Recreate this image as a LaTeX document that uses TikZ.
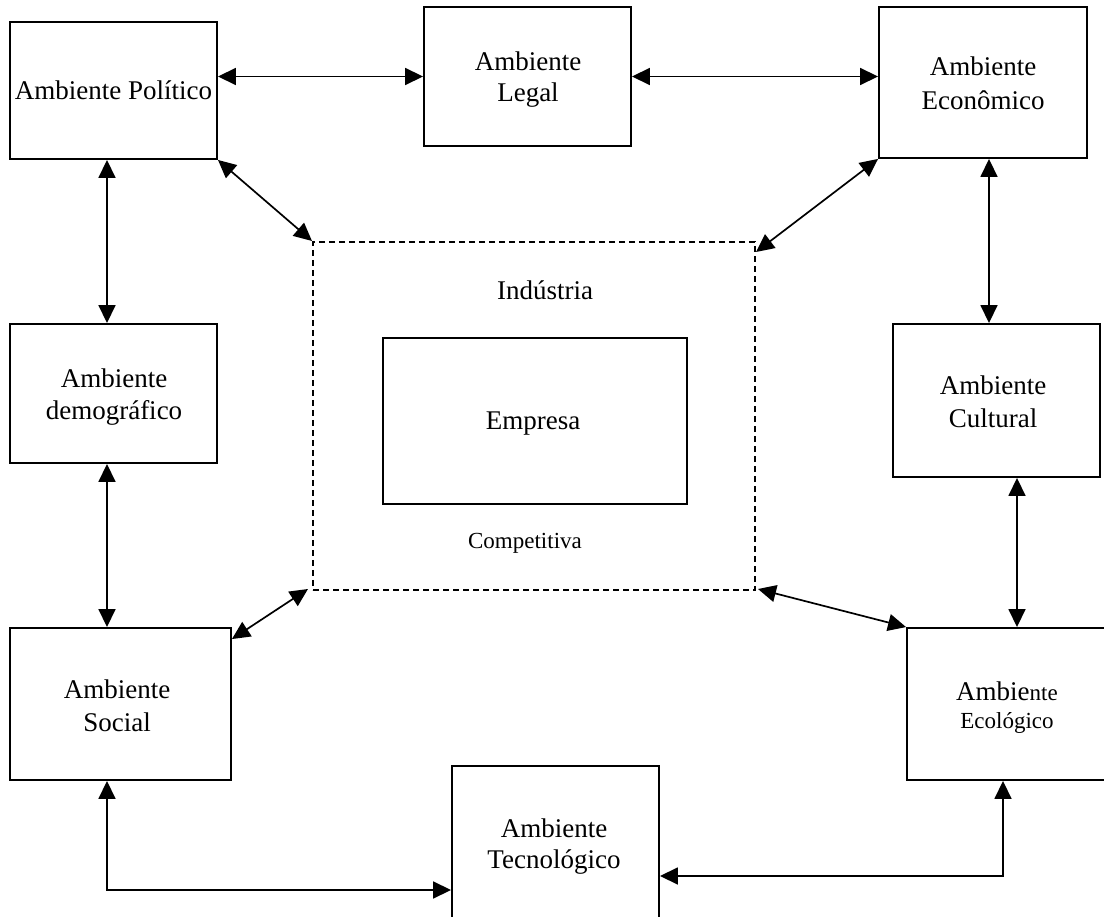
\documentclass[tikz,border=0pt]{standalone}
\usepackage{fontspec}
\setmainfont{Liberation Serif}
\usetikzlibrary{arrows.meta}

\begin{document}
\begin{tikzpicture}[x=1pt,y=-1pt,
  box/.style={draw, line width=1.9pt, inner sep=0pt, rectangle},
  dashbox/.style={draw, line width=2pt, dash pattern=on 6pt off 4pt, inner sep=0pt, rectangle},
  biarrow/.style={line width=1.7pt, {Triangle[length=18pt,width=17pt]}-{Triangle[length=18pt,width=17pt]}},
  txt/.style={anchor=base, inner sep=0pt, font=\fontsize{27}{31}\selectfont},
  smalltxt/.style={anchor=base, inner sep=0pt, font=\fontsize{23}{27}\selectfont}]

\useasboundingbox (0,0) rectangle (1104,917);
\clip (0,0) rectangle (1104,917);

% outer environment boxes
\node[box, minimum width=207pt, minimum height=137pt] (pol) at (113.5,90.5) {};
\node[box, minimum width=207pt, minimum height=139pt] (leg) at (527.5,76.5) {};
\node[box, minimum width=208pt, minimum height=151pt] (eco) at (983,82.5) {};
\node[box, minimum width=207pt, minimum height=139pt] (dem) at (113.5,393.5) {};
\node[box, minimum width=207pt, minimum height=153pt] (cul) at (996.5,400.5) {};
\node[box, minimum width=221pt, minimum height=152pt] (soc) at (120.5,704) {};
\node[box, minimum width=199pt, minimum height=152pt] (ecl) at (1006.5,704) {};
\node[box, minimum width=207pt, minimum height=154pt] (tec) at (555.5,843) {};

% industry and firm
\node[dashbox, minimum width=442pt, minimum height=348pt] (ind) at (534,416) {};
\node[box, minimum width=304pt, minimum height=166pt] (emp) at (535,421) {};

% labels
\node[txt] (pol-a) at (113.5,100) {Ambiente Político};
\node[txt] (leg-a) at (528,71) {Ambiente};
\node[txt] (leg-b) at (528,102) {Legal};
\node[txt] (eco-a) at (983,76) {Ambiente};
\node[txt] (eco-b) at (983,110) {Econômico};
\node[txt] (dem-a) at (114,388) {Ambiente};
\node[txt] (dem-b) at (114,420) {demográfico};
\node[txt] (cul-a) at (993,395) {Ambiente};
\node[txt] (cul-b) at (993,428) {Cultural};
\node[txt] (soc-a) at (117,698) {Ambiente};
\node[txt] (soc-b) at (117,731) {Social};
\node[txt] (ecl-a) at (1007,700) {Ambie{\fontsize{23}{27}\selectfont nte}};
\node[smalltxt] (ecl-b) at (1007,728) {Ecológico};
\node[txt] (tec-a) at (554,837) {Ambiente};
\node[txt] (tec-b) at (554,868) {Tecnológico};
\node[txt] (ind-a) at (545,300) {Indústria};
\node[txt] (emp-a) at (533,430) {Empresa};
\node[smalltxt] (ind-b) at (525,548) {Competitiva};

% connectors along the outer ring
\draw[biarrow] (leg.west -| pol.east) -- (leg.west);
\draw[biarrow] (leg.east) -- (leg.east -| eco.west);
\draw[biarrow] ([xshift=-6.5pt]pol.south) -- ([xshift=-6.5pt]dem.north);
\draw[biarrow] ([xshift=-6.5pt]dem.south) -- ([xshift=-6.5pt]dem.south |- soc.north);
\draw[biarrow] ([xshift=6pt]eco.south) -- ([xshift=6pt]eco.south |- cul.north);
\draw[biarrow] ([xshift=20.5pt]cul.south) -- ([xshift=20.5pt]cul.south |- ecl.north);
\draw[biarrow] ([xshift=-13.5pt]soc.south) |- ([yshift=-47pt]tec.west);
\draw[biarrow] ([xshift=-3.5pt]ecl.south) |- ([yshift=-33pt]tec.east);

% connectors to the industry
\draw[biarrow] (pol.south east) -- (ind.north west);
\draw[biarrow] (eco.south west) -- ([yshift=-11pt]ind.north east);
\draw[biarrow] ([xshift=-4pt,yshift=2pt]ind.south west) -- ([yshift=-12pt]soc.north east);
\draw[biarrow] ([xshift=2pt,yshift=2pt]ind.south east) -- (ecl.north west);
\end{tikzpicture}
\end{document}
